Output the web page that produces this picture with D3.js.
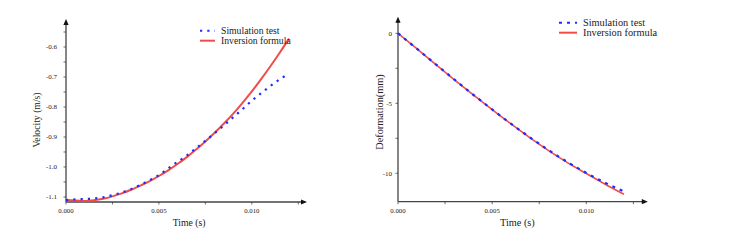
<!DOCTYPE html>
<html>
<head>
<meta charset="utf-8">
<script src="https://cdn.jsdelivr.net/npm/d3@7"></script>
<style>
  body { margin: 0; background: #fff; }
  svg { display: block; }
  text { font-family: "Liberation Serif", "DejaVu Serif", "Times New Roman", serif; fill: #222; }
</style>
</head>
<body>
<div id="chart"></div>
<script>
// === data ===
const velSimTime = [0, 0.0005, 0.001, 0.0015, 0.002, 0.0025, 0.003, 0.0035, 0.004, 0.0045,
  0.005, 0.0055, 0.006, 0.0065, 0.007, 0.0075, 0.008, 0.0085, 0.009, 0.0095,
  0.010, 0.0105, 0.011, 0.0115, 0.0118];
const velSim = [-1.110, -1.108, -1.107, -1.105, -1.101, -1.094, -1.085, -1.074, -1.060, -1.044,
  -1.027, -1.005, -0.983, -0.962, -0.937, -0.913, -0.887, -0.861, -0.834, -0.807,
  -0.779, -0.754, -0.730, -0.708, -0.696];

const velInvTime = [0, 0.0005, 0.001, 0.0015, 0.002, 0.0025, 0.003, 0.0035, 0.004, 0.0045,
  0.005, 0.0055, 0.006, 0.0065, 0.007, 0.0075, 0.008, 0.0085, 0.009, 0.0095,
  0.010, 0.0105, 0.011, 0.0115, 0.012];
const velInv = [-1.110, -1.112, -1.113, -1.111, -1.106, -1.098, -1.088, -1.076, -1.062, -1.047,
  -1.030, -1.011, -0.990, -0.967, -0.942, -0.915, -0.886, -0.855, -0.822, -0.786,
  -0.748, -0.707, -0.664, -0.619, -0.572];

const defTime = [0, 0.001, 0.002, 0.003, 0.004, 0.005, 0.006, 0.007, 0.008, 0.009, 0.010, 0.011, 0.012];
const defSim = [0, -1.10, -2.21, -3.31, -4.39, -5.44, -6.46, -7.43, -8.35, -9.20, -9.97, -10.68, -11.30];
const defInv = [0, -1.10, -2.22, -3.32, -4.40, -5.45, -6.47, -7.45, -8.38, -9.24, -10.02, -10.78, -11.50];

const timeTicks = [0, 0.005, 0.010];
const velTicks = [-1.1, -1.0, -0.9, -0.8, -0.7, -0.6];
const defTicks = [-10, -5, 0];

const legendNames = ["Simulation test", "Inversion formula"];

const W = 731, H = 248;
const BLUE = "#1f2bff", RED = "#f24b4b", AXIS = "#444";

const svg = d3.select("#chart").append("svg").attr("width", W).attr("height", H);
svg.append("rect").attr("width", W).attr("height", H).attr("fill", "#fff");

const fmtX = d3.format(".3f");
const noMinus = f => v => f(v).replace("\u2212", "-");

function panel(o) {
  const g = svg.append("g");
  const x = d3.scaleLinear().domain(o.xDomain).range(o.xRange);
  const y = d3.scaleLinear().domain(o.yDomain).range(o.yRange);
  const [x0, x1] = o.xRange, [y0, y1] = o.yRange;

  // axes lines + arrows
  g.append("line").attr("x1", x0).attr("x2", x1).attr("y1", y0).attr("y2", y0)
    .attr("stroke", AXIS).attr("stroke-width", 1.3);
  g.append("line").attr("x1", x0).attr("x2", x0).attr("y1", y0).attr("y2", y1)
    .attr("stroke", AXIS).attr("stroke-width", 1.3);
  g.append("path").attr("d", `M${x1 + 5},${y0} L${x1 - 1},${y0 - 2.6} L${x1 - 1},${y0 + 2.6}Z`).attr("fill", "#111");
  g.append("path").attr("d", `M${x0},${y1 - 5} L${x0 - 2.6},${y1 + 1} L${x0 + 2.6},${y1 + 1}Z`).attr("fill", "#111");

  // x ticks
  const xMinor = d3.range(0, o.xDomain[1] + 1e-9, 0.0025);
  g.selectAll(".xt").data(xMinor).join("line")
    .attr("x1", d => x(d)).attr("x2", d => x(d)).attr("y1", y0).attr("y2", y0 + 2.5)
    .attr("stroke", AXIS).attr("stroke-width", 0.8);
  g.selectAll(".xl").data(timeTicks).join("text")
    .attr("x", d => x(d)).attr("y", y0 + 11).attr("text-anchor", "middle")
    .attr("font-size", 6.8).text(fmtX);

  // y ticks
  g.selectAll(".yt").data(o.yMinor).join("line")
    .attr("x1", x0 - 2.5).attr("x2", x0).attr("y1", d => y(d)).attr("y2", d => y(d))
    .attr("stroke", AXIS).attr("stroke-width", 0.8);
  g.selectAll(".yl").data(o.yTicks).join("text")
    .attr("x", x0 - o.yLabelGap).attr("y", d => y(d) + 2.4).attr("text-anchor", "end")
    .attr("font-size", 7).text(noMinus(o.yFmt));

  // titles
  g.append("text").attr("x", (x0 + x1) / 2 - o.xTitleShift).attr("y", y0 + 24)
    .attr("text-anchor", "middle").attr("font-size", o.fs).text("Time (s)");
  g.append("text").attr("transform", `translate(${o.yTitleX},${o.yTitleY}) rotate(-90)`)
    .attr("text-anchor", "middle").attr("font-size", o.fs).text(o.yTitle);

  const line = d3.line().x(d => x(d[0])).y(d => y(d[1])).curve(d3.curveMonotoneX);

  g.append("path").datum(d3.zip(o.invT, o.inv)).attr("d", line)
    .attr("fill", "none").attr("stroke", RED).attr("stroke-width", o.redW);
  g.append("path").datum(d3.zip(o.simT, o.sim)).attr("d", line)
    .attr("fill", "none").attr("stroke", BLUE).attr("stroke-width", 2.2)
    .attr("stroke-dasharray", o.dash);

  // legend
  const lg = g.append("g").attr("transform", `translate(${o.legX},${o.legY})`);
  [BLUE, RED].forEach((c, i) => {
    lg.append("line").attr("x1", 0).attr("x2", o.legLen).attr("y1", i * 10).attr("y2", i * 10)
      .attr("stroke", c).attr("stroke-width", 2)
      .attr("stroke-dasharray", i === 0 ? o.dash : null);
    lg.append("text").attr("x", o.legLen + 6).attr("y", i * 10 + 3.3)
      .attr("font-size", o.fs).text(legendNames[i]);
  });
}

panel({
  xDomain: [0, 0.0127], xRange: [66, 302],
  yDomain: [-1.1167, -0.5233], yRange: [202, 24],
  yTicks: velTicks, yMinor: d3.range(-1.1, -0.549, 0.05), yFmt: d3.format(".1f"), yLabelGap: 9,
  yTitle: "Velocity (m/s)", yTitleX: 40, yTitleY: 120, xTitleShift: -5,
  simT: velSimTime, sim: velSim, invT: velInvTime, inv: velInv,
  dash: "2.2,5.1", redW: 2, fs: 9.7,
  legX: 200, legY: 30.7, legLen: 15
});

panel({
  xDomain: [0, 0.013], xRange: [398, 642.8],
  yDomain: [-12.03, 0.83], yRange: [201.7, 21.7],
  yTicks: defTicks, yMinor: d3.range(-10, 0.1, 2.5), yFmt: d3.format("d"), yLabelGap: 6,
  yTitle: "Deformation(mm)", yTitleX: 383, yTitleY: 112, xTitleShift: 3,
  simT: defTime, sim: defSim, invT: defTime, inv: defInv,
  dash: "3,5", redW: 1.6, fs: 10.3,
  legX: 559, legY: 22.7, legLen: 18
});
</script>
</body>
</html>
